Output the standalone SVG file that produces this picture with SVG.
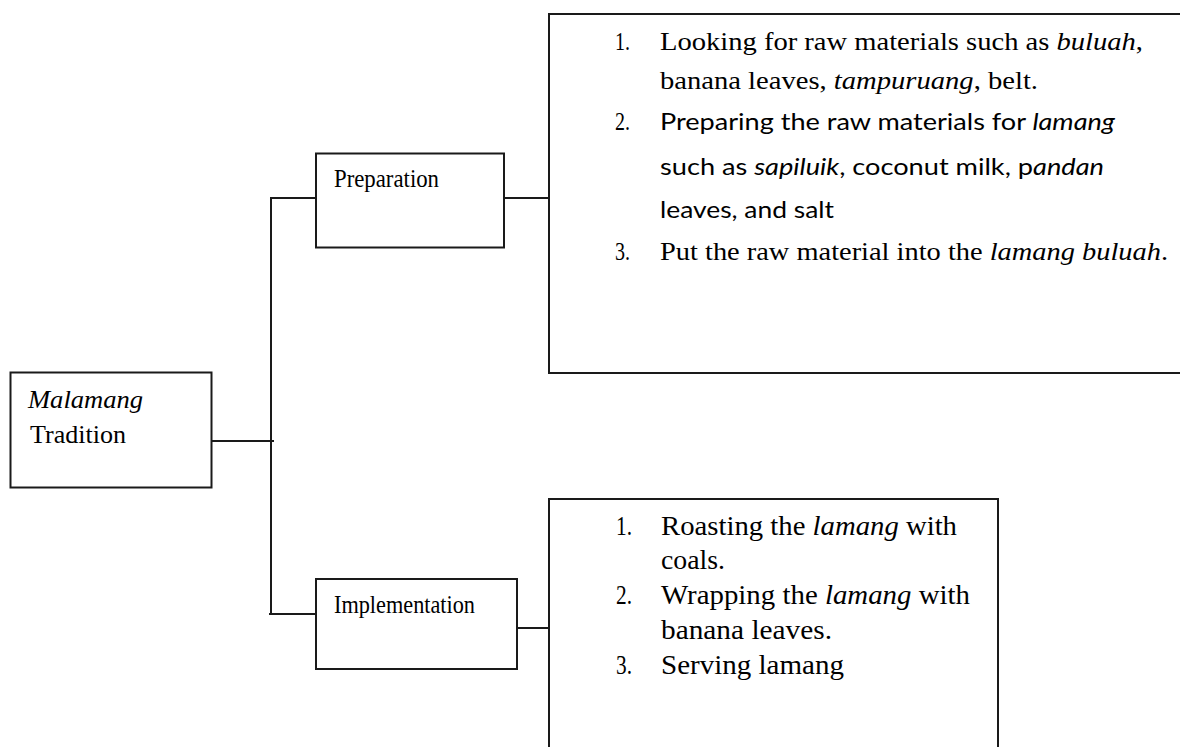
<svg xmlns="http://www.w3.org/2000/svg" width="1180" height="747" viewBox="0 0 1180 747">
<style>
.box{fill:#fff;stroke:#1a1a1a;stroke-width:2}
.ln{stroke:#1a1a1a;stroke-width:2;fill:none}
.nd{font-family:"Liberation Serif","Times New Roman",serif;font-size:25px;fill:#000}
.tr{font-family:"Liberation Serif","Times New Roman",serif;font-size:26px;fill:#000}
.cb{font-family:Lato,"Liberation Sans",sans-serif;font-size:23px;fill:#000}
.lo{font-family:"Liberation Serif","Times New Roman",serif;font-size:27px;fill:#000}
.it{font-style:italic}
</style>
<rect width="1180" height="747" fill="#fff"/>
<g id="connectors">
<line class="ln" x1="271" y1="198" x2="271" y2="615"/>
<line class="ln" x1="270" y1="198" x2="316" y2="198"/>
<line class="ln" x1="269" y1="614" x2="316" y2="614"/>
<line class="ln" x1="207" y1="441" x2="274" y2="441"/>
<line class="ln" x1="504" y1="198" x2="549" y2="198"/>
<line class="ln" x1="507" y1="628" x2="549" y2="628"/>
</g>
<g id="node-malamang">
<rect class="box" x="10.5" y="372.5" width="201" height="115"/>
<text class="nd it" x="28" y="408" textLength="115" lengthAdjust="spacingAndGlyphs">Malamang</text>
<text class="nd" x="30" y="443" textLength="96" lengthAdjust="spacingAndGlyphs">Tradition</text>
</g>
<g id="node-preparation">
<rect class="box" x="316" y="153.5" width="188" height="94"/>
<text class="nd" x="334" y="187" textLength="105" lengthAdjust="spacingAndGlyphs">Preparation</text>
</g>
<g id="node-implementation">
<rect class="box" x="316" y="579" width="201" height="90"/>
<text class="nd" x="334" y="613" textLength="141" lengthAdjust="spacingAndGlyphs">Implementation</text>
</g>
<g id="node-preparation-steps">
<rect class="box" x="549" y="14" width="660" height="359"/>
<text class="tr" x="615" y="50" textLength="15" lengthAdjust="spacingAndGlyphs">1.</text>
<text class="tr" x="660" y="50" textLength="483" lengthAdjust="spacingAndGlyphs">Looking for raw materials such as <tspan class="it">buluah</tspan>,</text>
<text class="tr" x="660" y="89" textLength="378" lengthAdjust="spacingAndGlyphs">banana leaves, <tspan class="it">tampuruang</tspan>, belt.</text>
<text class="tr" x="615" y="130" textLength="15" lengthAdjust="spacingAndGlyphs">2.</text>
<text class="cb" x="660" y="130" textLength="455" lengthAdjust="spacingAndGlyphs">Preparing the raw materials for <tspan class="it">lamang</tspan></text>
<text class="cb" x="660" y="175" textLength="444" lengthAdjust="spacingAndGlyphs">such as <tspan class="it">sapiluik</tspan>, coconut milk, p<tspan class="it">andan</tspan></text>
<text class="cb" x="660" y="218" textLength="174" lengthAdjust="spacingAndGlyphs">leaves, and salt</text>
<text class="tr" x="615" y="260" textLength="15" lengthAdjust="spacingAndGlyphs">3.</text>
<text class="tr" x="660" y="260" textLength="508" lengthAdjust="spacingAndGlyphs">Put the raw material into the <tspan class="it">lamang buluah</tspan>.</text>
</g>
<g id="node-implementation-steps">
<rect class="box" x="549" y="499" width="449" height="270"/>
<text class="lo" x="616" y="535" textLength="16" lengthAdjust="spacingAndGlyphs">1.</text>
<text class="lo" x="661" y="535" textLength="296" lengthAdjust="spacingAndGlyphs">Roasting the <tspan class="it">lamang</tspan> with</text>
<text class="lo" x="661" y="569" textLength="64" lengthAdjust="spacingAndGlyphs">coals.</text>
<text class="lo" x="616" y="604" textLength="16" lengthAdjust="spacingAndGlyphs">2.</text>
<text class="lo" x="661" y="604" textLength="309" lengthAdjust="spacingAndGlyphs">Wrapping the <tspan class="it">lamang</tspan> with</text>
<text class="lo" x="661" y="639" textLength="171" lengthAdjust="spacingAndGlyphs">banana leaves.</text>
<text class="lo" x="616" y="674" textLength="16" lengthAdjust="spacingAndGlyphs">3.</text>
<text class="lo" x="661" y="674" textLength="183" lengthAdjust="spacingAndGlyphs">Serving lamang</text>
</g>
</svg>
